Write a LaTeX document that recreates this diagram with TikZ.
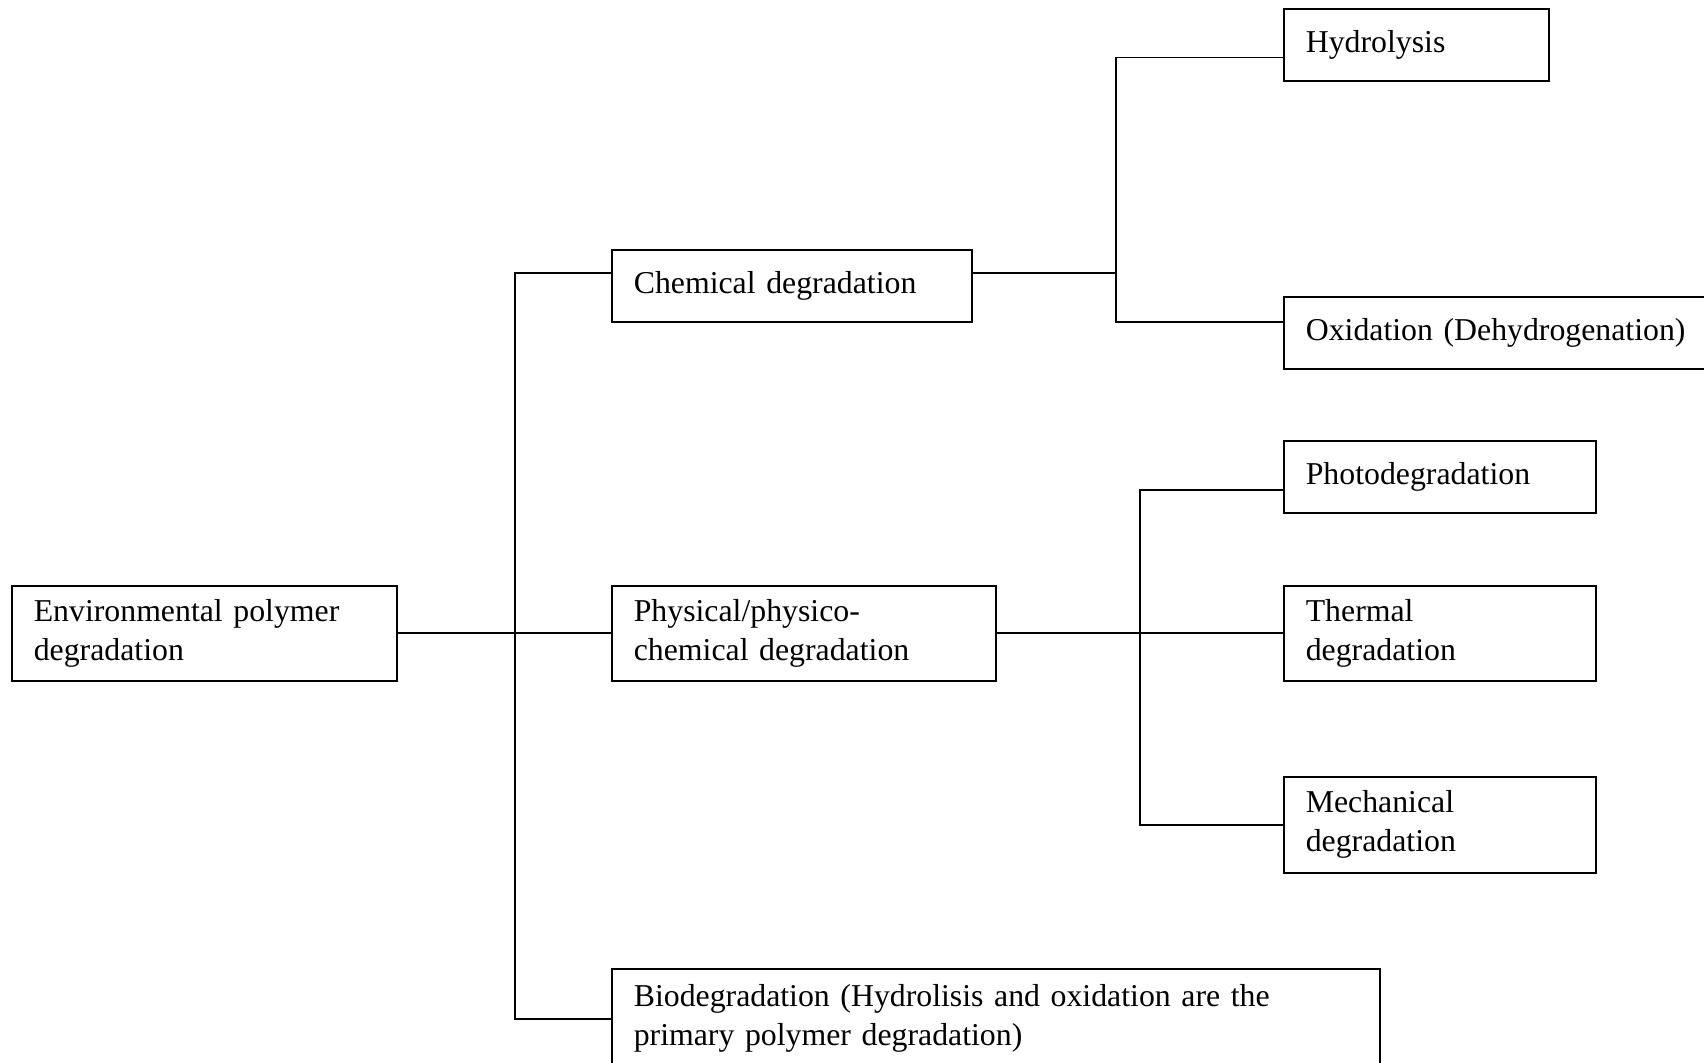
\documentclass[tikz,border=0pt]{standalone}
\usepackage{fontspec}
\setmainfont{Liberation Serif}
\usetikzlibrary{calc}
\begin{document}
\begin{tikzpicture}
        [x=0.5pt,y=-0.5pt,
         box/.style={draw,rectangle,anchor=north west,align=left,inner xsep=11pt,inner ysep=0pt,
                     line width=0.8pt,font=\fontsize{15.9}{19.5}\selectfont},
         link/.style={line width=0.8pt}]
        \useasboundingbox (0,0) rectangle (1704,1063);

        % root
        \node[box, text width=170.5pt, minimum height=47.5pt] (Env) at (11,585)
            {Environmental polymer\\degradation};

        % level 1
        \node[box, text width=158pt, minimum height=36pt]     (Chem) at (611,249)
            {Chemical degradation};
        \node[box, text width=170pt, minimum height=47.5pt]   (Phys) at (611,585)
            {Physical/physico-\\chemical degradation};
        \node[box, text width=362pt, minimum height=50pt]     (Bio) at (611,968)
            {Biodegradation (Hydrolisis and oxidation are the\\primary polymer degradation)};

        % level 2, chemical
        \node[box, text width=110.5pt, minimum height=36pt]   (Hydro) at (1283,8)
            {Hydrolysis};
        \node[box, text width=198pt, minimum height=36pt]     (Oxid) at (1283,296)
            {Oxidation (Dehydrogenation)};

        % level 2, physical
        \node[box, text width=134pt, minimum height=36pt]     (Photo) at (1283,440)
            {Photodegradation};
        \node[box, text width=134pt, minimum height=47.5pt]   (Therm) at (1283,585)
            {Thermal\\degradation};
        \node[box, text width=134pt, minimum height=48pt]     (Mech) at (1283,776)
            {Mechanical\\degradation};

        % fork points
        \coordinate (Trunk) at (515,632);
        \coordinate (CFork) at (1116,0);
        \coordinate (PFork) at (1140,0);
        \coordinate (ChemIn)  at ($(Chem.north west)!0.33!(Chem.south west)$);
        \coordinate (ChemOut) at ($(Chem.north east)!0.33!(Chem.south east)$);
        \coordinate (HydroIn) at ($(Hydro.north west)!0.67!(Hydro.south west)$);
        \coordinate (OxidIn)  at ($(Oxid.north west)!0.35!(Oxid.south west)$);
        \coordinate (PhotoIn) at ($(Photo.north west)!0.68!(Photo.south west)$);

        \draw[link] (Env.east) -- (Phys.west);
        \draw[link] (ChemIn) -| (Trunk) |- (Bio.west);

        \draw[link] (ChemOut) -- (ChemOut -| CFork);
        \draw[link] (HydroIn) -| (CFork |- OxidIn) -- (OxidIn);

        \draw[link] (Phys.east) -- (Therm.west);
        \draw[link] (PhotoIn) -| (PFork |- Mech.west) -- (Mech.west);
\end{tikzpicture}
\end{document}
